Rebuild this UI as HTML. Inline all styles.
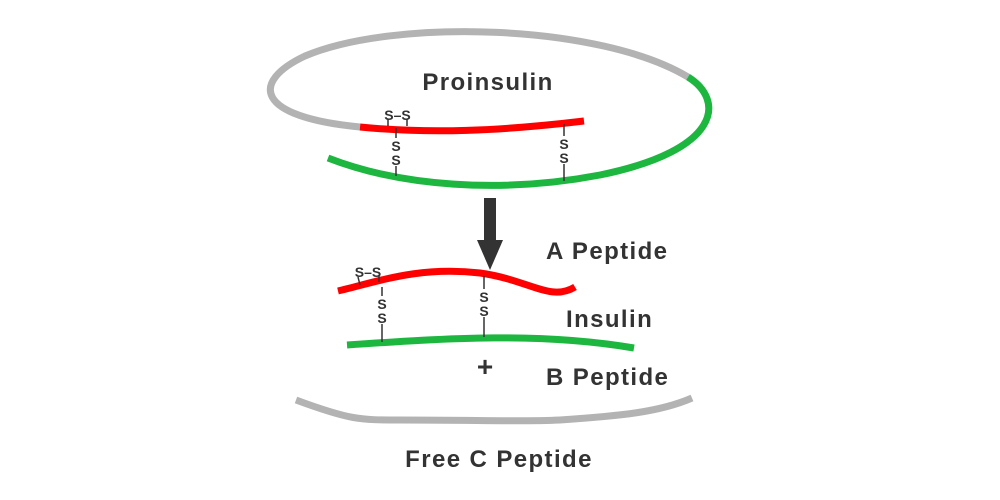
<!DOCTYPE html>
<html><head><meta charset="utf-8"><style>
html,body{margin:0;padding:0;background:#fff;}
svg{display:block;}
text{font-family:"Liberation Sans",sans-serif;font-weight:bold;fill:#333;}
</style></head><body>
<svg width="1000" height="500" viewBox="0 0 1000 500" xmlns="http://www.w3.org/2000/svg">
<g fill="none" stroke-width="7" stroke-linecap="butt">
<path d="M360,127 C255,117 250,82 305,56 C395,18 600,24 688,77" stroke="#b3b3b3"/>
<path d="M688,77 C725,100 722,150 600,175 C500,194 400,186 328,158" stroke="#1db63f"/>
<path d="M360,127 C430,134 500,131 584,121" stroke="#ff0000"/>
<path d="M338,291 C380,281 420,266 480,273 C530,280 550,302 575,287" stroke="#ff0000"/>
<path d="M347,345 C450,338 540,332 634,348" stroke="#1db63f"/>
<path d="M296,400 C350,420 360,420 400,420 C480,420 520,422 560,420 C620,416 660,412 692,398" stroke="#b3b3b3"/>
</g>
<g stroke="#333" stroke-width="1.5">
<line x1="396" y1="128" x2="396" y2="176"/>
<line x1="564" y1="124" x2="564" y2="181"/>
<line x1="388" y1="119" x2="388" y2="126"/>
<line x1="407" y1="119" x2="407" y2="126"/>
<line x1="382" y1="287" x2="382" y2="342"/>
<line x1="484" y1="276" x2="484" y2="337"/>
<line x1="358" y1="277" x2="360" y2="285"/>
<line x1="379" y1="276" x2="379" y2="282"/>
</g>
<g font-size="14" text-anchor="middle">
<rect x="390" y="138" width="12" height="28" fill="#fff"/>
<rect x="558" y="136" width="12" height="28" fill="#fff"/>
<rect x="376" y="296" width="12" height="28" fill="#fff"/>
<rect x="478" y="289" width="12" height="28" fill="#fff"/>
<text x="396" y="151">S</text><text x="396" y="165">S</text>
<text x="564" y="149">S</text><text x="564" y="163">S</text>
<text x="382" y="309">S</text><text x="382" y="323">S</text>
<text x="484" y="302">S</text><text x="484" y="316">S</text>
<text x="397.5" y="120">S–S</text>
<text x="368" y="277">S–S</text>
</g>
<rect x="484" y="198" width="12" height="44" fill="#333"/>
<polygon points="477,240 503,240 490,270" fill="#333"/>
<g font-size="24" letter-spacing="1.4">
<text x="488" y="90" text-anchor="middle">Proinsulin</text>
<text x="546" y="259">A Peptide</text>
<text x="566" y="327">Insulin</text>
<text x="546" y="385">B Peptide</text>
<text x="499" y="467" text-anchor="middle">Free C Peptide</text>
</g>
<text x="485" y="376" text-anchor="middle" font-size="28">+</text>
</svg>
</body></html>
